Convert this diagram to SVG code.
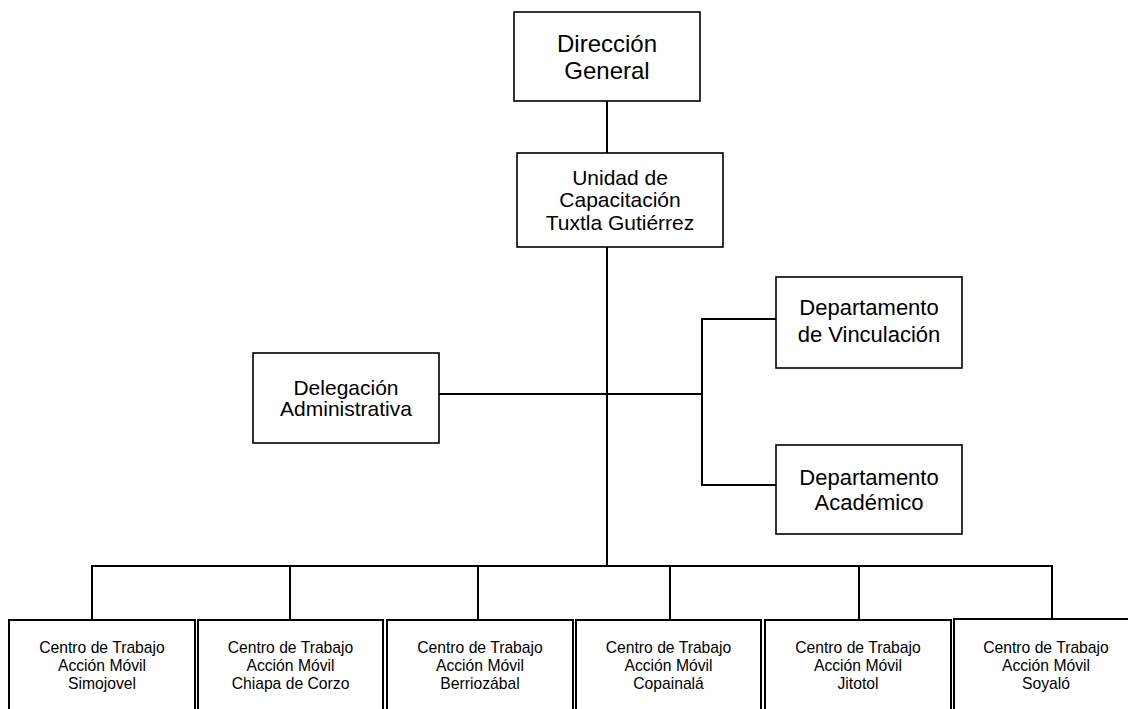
<svg xmlns="http://www.w3.org/2000/svg" width="1128" height="709" viewBox="0 0 1128 709">
<style>
.box{fill:#fff;stroke:#000;stroke-width:1.6}
.cbox{fill:#fff;stroke:#000;stroke-width:2}
.ln{stroke:#000;stroke-width:2;fill:none}
text{font-family:"Liberation Sans",Arial,sans-serif;fill:#000;text-anchor:middle}
.t24{font-size:24px}
.t21{font-size:21px}
.t22{font-size:22px}
.t15{font-size:15.7px}
</style>
<rect width="1128" height="709" fill="#fff"/>
<g id="connectors">
<path class="ln" d="M607 101V153"/>
<path class="ln" d="M607 247V566"/>
<path class="ln" d="M439 394H702"/>
<path class="ln" d="M776 319H702V485H776"/>
<path class="ln" d="M92 620V566H1052V620"/>
<path class="ln" d="M290 566V620M478 566V620M670 566V620M859 566V620"/>
</g>
<g id="direccion">
<rect class="box" x="514" y="12" width="186" height="89"/>
<text class="t24" x="607" y="52">Dirección</text>
<text class="t24" x="607" y="79">General</text>
</g>
<g id="unidad">
<rect class="box" x="517" y="153" width="206" height="94"/>
<text class="t21" x="620" y="185">Unidad de</text>
<text class="t21" x="620" y="207">Capacitación</text>
<text class="t21" x="620" y="230">Tuxtla Gutiérrez</text>
</g>
<g id="delegacion">
<rect class="box" x="253" y="353" width="186" height="90"/>
<text class="t21" x="346" y="395">Delegación</text>
<text class="t21" x="346" y="416">Administrativa</text>
</g>
<g id="vinculacion">
<rect class="box" x="776" y="277" width="186" height="91"/>
<text class="t22" x="869" y="315">Departamento</text>
<text class="t22" x="869" y="342">de Vinculación</text>
</g>
<g id="academico">
<rect class="box" x="776" y="445" width="186" height="89"/>
<text class="t22" x="869" y="485">Departamento</text>
<text class="t22" x="869" y="510">Académico</text>
</g>
<g id="simojovel">
<rect class="cbox" x="9" y="620" width="186" height="100"/>
<text class="t15" x="102" y="653">Centro de Trabajo</text>
<text class="t15" x="102" y="671">Acción Móvil</text>
<text class="t15" x="102" y="689">Simojovel</text>
</g>
<g id="chiapa">
<rect class="cbox" x="198" y="620" width="185" height="100"/>
<text class="t15" x="290.5" y="653">Centro de Trabajo</text>
<text class="t15" x="290.5" y="671">Acción Móvil</text>
<text class="t15" x="290.5" y="689">Chiapa de Corzo</text>
</g>
<g id="berriozabal">
<rect class="cbox" x="387" y="620" width="186" height="100"/>
<text class="t15" x="480" y="653">Centro de Trabajo</text>
<text class="t15" x="480" y="671">Acción Móvil</text>
<text class="t15" x="480" y="689">Berriozábal</text>
</g>
<g id="copainala">
<rect class="cbox" x="576" y="620" width="185" height="100"/>
<text class="t15" x="668.5" y="653">Centro de Trabajo</text>
<text class="t15" x="668.5" y="671">Acción Móvil</text>
<text class="t15" x="668.5" y="689">Copainalá</text>
</g>
<g id="jitotol">
<rect class="cbox" x="765" y="620" width="186" height="100"/>
<text class="t15" x="858" y="653">Centro de Trabajo</text>
<text class="t15" x="858" y="671">Acción Móvil</text>
<text class="t15" x="858" y="689">Jitotol</text>
</g>
<g id="soyalo">
<rect class="cbox" x="954" y="619" width="186" height="101"/>
<text class="t15" x="1046" y="653">Centro de Trabajo</text>
<text class="t15" x="1046" y="671">Acción Móvil</text>
<text class="t15" x="1046" y="689">Soyaló</text>
</g>
</svg>
